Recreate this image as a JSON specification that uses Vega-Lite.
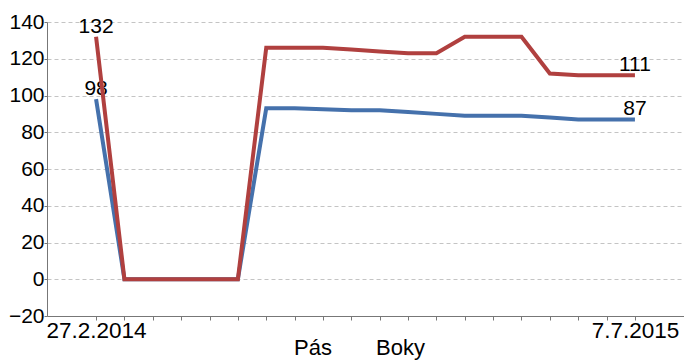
{
  "$schema": "https://vega.github.io/schema/vega-lite/v6.json",
  "autosize": {"type": "none"},
  "padding": {"left": 47, "top": 22, "right": 0, "bottom": 44},
  "width": 637,
  "height": 294,
  "background": "white",
  "config": {
    "view": {"stroke": null},
    "font": "Liberation Sans"
  },
  "data": {
    "values": [
      {"n": 1, "s": "Pás", "v": 98},
      {"n": 2, "s": "Pás", "v": 0},
      {"n": 3, "s": "Pás", "v": 0},
      {"n": 4, "s": "Pás", "v": 0},
      {"n": 5, "s": "Pás", "v": 0},
      {"n": 6, "s": "Pás", "v": 0},
      {"n": 7, "s": "Pás", "v": 93},
      {"n": 8, "s": "Pás", "v": 93},
      {"n": 9, "s": "Pás", "v": 92.5},
      {"n": 10, "s": "Pás", "v": 92},
      {"n": 11, "s": "Pás", "v": 92},
      {"n": 12, "s": "Pás", "v": 91},
      {"n": 13, "s": "Pás", "v": 90},
      {"n": 14, "s": "Pás", "v": 89},
      {"n": 15, "s": "Pás", "v": 89},
      {"n": 16, "s": "Pás", "v": 89},
      {"n": 17, "s": "Pás", "v": 88},
      {"n": 18, "s": "Pás", "v": 87},
      {"n": 19, "s": "Pás", "v": 87},
      {"n": 20, "s": "Pás", "v": 87},
      {"n": 1, "s": "Boky", "v": 132},
      {"n": 2, "s": "Boky", "v": 0},
      {"n": 3, "s": "Boky", "v": 0},
      {"n": 4, "s": "Boky", "v": 0},
      {"n": 5, "s": "Boky", "v": 0},
      {"n": 6, "s": "Boky", "v": 0},
      {"n": 7, "s": "Boky", "v": 126},
      {"n": 8, "s": "Boky", "v": 126},
      {"n": 9, "s": "Boky", "v": 126},
      {"n": 10, "s": "Boky", "v": 125},
      {"n": 11, "s": "Boky", "v": 124},
      {"n": 12, "s": "Boky", "v": 123},
      {"n": 13, "s": "Boky", "v": 123},
      {"n": 14, "s": "Boky", "v": 132},
      {"n": 15, "s": "Boky", "v": 132},
      {"n": 16, "s": "Boky", "v": 132},
      {"n": 17, "s": "Boky", "v": 112},
      {"n": 18, "s": "Boky", "v": 111},
      {"n": 19, "s": "Boky", "v": 111},
      {"n": 20, "s": "Boky", "v": 111}
    ]
  },
  "encoding": {
    "x": {
      "field": "n", "type": "quantitative", "title": null,
      "scale": {"domain": [-0.73, 21.73], "nice": false, "zero": false},
      "axis": {
        "values": [1, 2, 3, 4, 5, 6, 7, 8, 9, 10, 11, 12, 13, 14, 15, 16, 17, 18, 19, 20],
        "labelExpr": "datum.value == 1 ? '27.2.2014' : datum.value == 20 ? '7.7.2015' : ''",
        "labelAngle": 0, "labelFontSize": 22.5, "labelColor": "black",
        "labelPadding": -1, "tickSize": 4, "tickColor": "#777", "domainColor": "#777",
        "grid": false, "labelOverlap": false, "labelBound": false, "labelFlush": false
      }
    },
    "y": {
      "field": "v", "type": "quantitative", "title": null,
      "scale": {"domain": [-20, 140], "nice": false, "zero": false},
      "axis": {
        "values": [-20, 0, 20, 40, 60, 80, 100, 120, 140],
        "labelFontSize": 21, "labelColor": "black", "labelPadding": 0,
        "tickSize": 3, "tickColor": "#777", "domainColor": "#777",
        "gridColor": "#c4c4c4", "gridDash": [4, 3], "gridWidth": 1,
        "labelFlush": false, "labelOverlap": false
      }
    }
  },
  "layer": [
    {
      "transform": [{"filter": "datum.n == 1 || datum.n == 20"}],
      "mark": {"type": "text", "fontSize": 21, "color": "black", "baseline": "alphabetic", "dy": -4},
      "encoding": {"text": {"field": "v", "type": "quantitative"}}
    },
    {
      "mark": {"type": "line", "strokeWidth": 4, "strokeJoin": "miter"},
      "encoding": {
        "color": {
          "field": "s", "type": "nominal",
          "scale": {"domain": ["Pás", "Boky"], "range": ["#4571ac", "#b0403f"]},
          "legend": {
            "title": null, "orient": "none", "direction": "horizontal",
            "legendX": 225, "legendY": 315,
            "symbolOpacity": 0, "symbolSize": 1, "symbolStrokeWidth": 0,
            "labelFontSize": 22, "labelColor": "black", "labelOffset": 0,
            "columnPadding": 22
          }
        }
      }
    }
  ]
}
